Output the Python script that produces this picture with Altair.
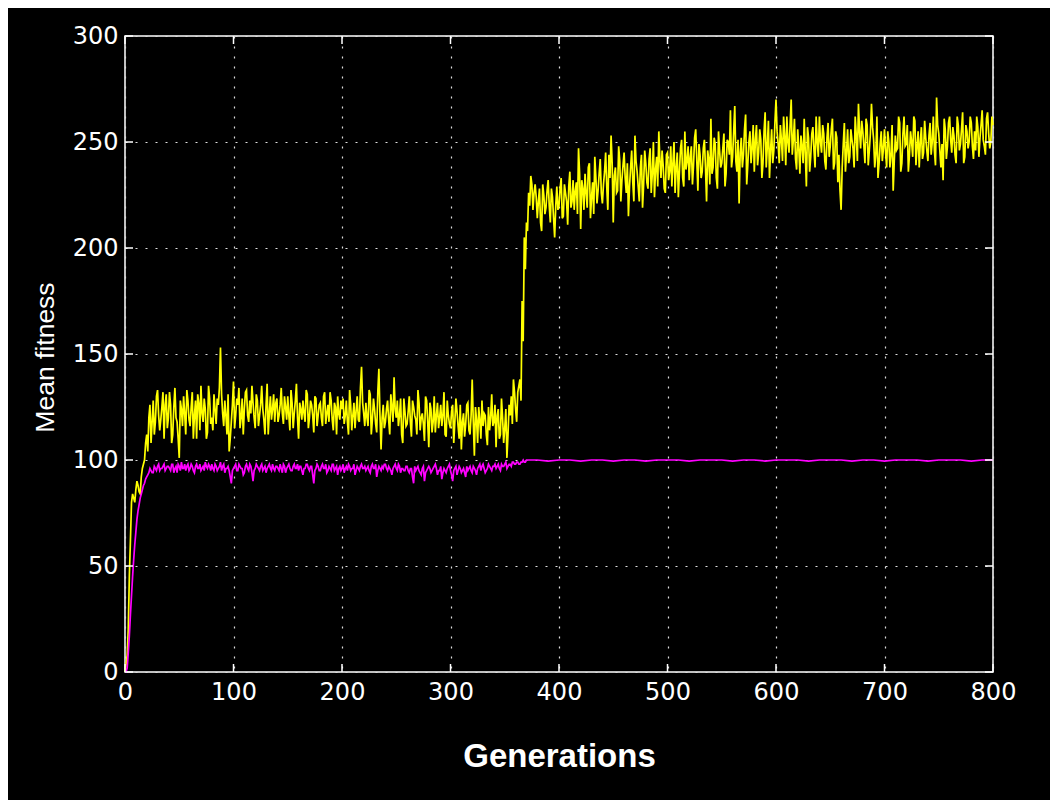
import altair as alt
import pandas as pd

# ---- data ----
x_ticks = [0, 100, 200, 300, 400, 500, 600, 700, 800]
y_ticks = [0, 50, 100, 150, 200, 250, 300]

# yellow series, even generations 0..800
yellow_even = [
    0, 8, 45, 80, 82, 86, 88, 84, 96, 100,
    112, 120, 108, 128, 118, 133, 114, 125, 110, 131,
    120, 126, 112, 134, 118, 101, 124, 130, 112, 128,
    116, 132, 121, 110, 127, 135, 118, 124, 113, 129,
    120, 131, 117, 126, 153, 122, 128, 112, 104, 118,
    137, 121, 126, 115, 129, 124, 133, 118, 122, 127,
    115, 128, 121, 135, 119, 126, 112, 130, 124, 118,
    129, 121, 134, 117, 125, 130, 114, 127, 122, 136,
    110, 124, 128, 118, 131, 120, 126, 113, 129, 121,
    127, 116, 132, 122, 118, 128, 114, 125, 130, 119,
    124, 117, 128, 112, 126, 121, 115, 130, 118, 144,
    122, 127, 116, 131, 119, 124, 113, 143, 105, 126,
    118, 128, 112, 125, 139, 120, 116, 129, 108, 123,
    117, 130, 111, 125, 119, 133, 114, 122, 109, 128,
    106, 124, 118, 113, 127, 120, 116, 132, 111, 121,
    115, 126, 118, 123, 110, 105, 122, 117, 127, 112,
    138, 102, 119, 125, 110, 116, 121, 107, 114, 131,
    118, 106, 124, 112, 120, 115, 101, 126, 130, 138,
    124, 132, 138, 175, 205, 212, 226, 234, 218, 230,
    214, 228, 208, 225, 219, 232, 212, 224, 205, 229,
    220, 233, 215, 226, 211, 236, 222, 218, 231, 247,
    209, 228, 235, 219, 240, 224, 216, 233, 227, 242,
    221, 236, 229, 244, 253, 212, 238, 227, 241, 232,
    245, 226, 215, 238, 231, 253, 236, 222, 244, 230,
    240, 228, 247, 235, 224, 243, 255, 233, 239, 226,
    245, 236, 229, 250, 238, 224, 247, 233, 255, 241,
    232, 248, 239, 256, 227, 244, 236, 251, 222, 242,
    261, 238, 249, 228, 246, 240, 254, 235, 250, 265,
    243, 267, 236, 221, 252, 244, 263, 239, 255, 247,
    236, 258, 245, 251, 240, 264, 248, 233, 256, 246,
    270, 249, 258, 241, 253, 262, 245, 270, 251, 242,
    256, 235, 248, 261, 229, 252, 243, 257, 238, 250,
    262, 245, 254, 237, 259, 248, 261, 240, 252, 244,
    218, 249, 236, 256, 243, 251, 238, 253, 268, 247,
    255, 240, 258, 246, 268, 251, 244, 233, 249, 241,
    256, 238, 250, 244, 227, 253, 247, 259, 240, 262,
    249, 236, 255, 243, 260, 248, 238, 257, 245, 252,
    241, 259, 250, 246, 271, 254, 238, 232, 256, 248,
    262, 245, 253, 240, 258, 249, 264, 243, 255, 250,
    259, 242, 246, 257, 252, 265, 248, 261, 254, 250,
    258,
]
# yellow series, odd generations 1..799
yellow_odd = [
    4, 20, 62, 84, 80, 90, 85, 92, 98, 108,
    104, 126, 118, 112, 130, 121, 119, 132, 126, 115,
    132, 108, 125, 120, 110, 128, 116, 122, 133, 119,
    125, 110, 128, 131, 114, 122, 129, 110, 135, 117,
    114, 124, 129, 134, 131, 116, 121, 131, 110, 126,
    115, 129, 134, 120, 112, 132, 121, 128, 135, 120,
    131, 116, 126, 124, 112, 136, 122, 119, 131, 127,
    118, 126, 122, 130, 119, 121, 133, 115, 128, 120,
    127, 119, 122, 133, 115, 128, 121, 130, 116, 126,
    120, 130, 117, 126, 132, 119, 127, 112, 122, 128,
    129, 121, 118, 133, 114, 127, 123, 119, 134, 127,
    116, 120, 133, 112, 129, 117, 132, 121, 120, 115,
    124, 119, 131, 118, 124, 128, 121, 112, 129, 116,
    123, 118, 128, 121, 112, 127, 120, 117, 130, 118,
    127, 113, 130, 121, 115, 126, 121, 112, 128, 117,
    123, 108, 129, 116, 126, 118, 111, 126, 114, 121,
    118, 125, 108, 119, 128, 122, 112, 125, 120, 116,
    126, 121, 110, 129, 108, 124, 112, 121, 117, 132,
    118, 135, 128, 156, 190, 208, 220, 230, 226, 224,
    222, 212, 230, 216, 227, 220, 228, 214, 220, 218,
    228, 214, 230, 222, 229, 219, 232, 227, 216, 235,
    232, 218, 226, 238, 214, 231, 243, 221, 235, 226,
    230, 245, 218, 233, 240, 234, 226, 248, 222, 239,
    233, 240, 229, 246, 222, 241, 229, 238, 219, 246,
    231, 242, 226, 250, 237, 229, 241, 246, 228, 244,
    232, 248, 240, 226, 245, 236, 251, 229, 237, 248,
    243, 230, 252, 241, 249, 233, 247, 238, 246, 230,
    235, 252, 233, 255, 238, 247, 229, 251, 244, 238,
    255, 241, 251, 245, 238, 256, 230, 250, 240, 258,
    251, 239, 256, 233, 255, 238, 260, 246, 240, 259,
    255, 240, 251, 262, 239, 250, 258, 244, 261, 237,
    247, 253, 240, 245, 257, 236, 254, 246, 262, 243,
    250, 258, 241, 252, 243, 256, 237, 255, 231, 227,
    238, 259, 245, 240, 256, 247, 262, 241, 255, 260,
    248, 261, 239, 254, 257, 238, 262, 240, 255, 247,
    245, 255, 238, 258, 241, 246, 262, 236, 254, 248,
    258, 244, 250, 262, 239, 255, 250, 242, 260, 246,
    253, 244, 262, 239, 258, 246, 249, 261, 242, 259,
    251, 257, 244, 262, 246, 256, 240, 258, 247, 262,
    248, 255, 262, 243, 258, 251, 244, 264, 247, 262,
]

# magenta series: even generations 0..370
magenta_even = [
    0, 2, 17, 36, 53, 66, 76, 82, 86, 89,
    92, 94, 95, 94, 96, 97, 95, 96, 98, 96,
    97, 95, 98, 96, 94, 97, 99, 96, 95, 98,
    96, 97, 94, 98, 96, 95, 97, 99, 96, 97,
    98, 95, 97, 96, 99, 97, 94, 96, 95, 89,
    96, 98, 95, 97, 96, 94, 98, 95, 97, 90,
    96, 97, 95, 98, 96, 94, 97, 96, 98, 95,
    97, 95, 96, 98, 94, 97, 96, 95, 98, 96,
    95, 97, 93, 96, 98, 95, 97, 89, 96, 97,
    95, 98, 96, 94, 97, 95, 98, 96, 93, 97,
    96, 94, 97, 98, 95, 96, 93, 97, 95, 98,
    96, 95, 97, 94, 98, 96, 92, 97, 95, 96,
    98, 95, 96, 93, 97, 96, 98, 94, 96, 95,
    97, 94, 96, 89, 95, 97, 94, 96, 90, 95,
    97, 94, 96, 98, 93, 95, 91, 96, 94, 97,
    95, 90, 96, 93, 97, 94, 96, 92, 95, 97,
    94, 96, 93, 97, 95, 98, 94, 96, 97, 95,
    97, 96, 98, 95, 97, 98, 96, 98, 97, 99,
    98, 99, 98, 99, 99, 100,
]
# magenta series: odd generations 1..369
magenta_odd = [
    0, 9, 27, 45, 60, 72, 79, 84, 88, 91,
    93, 96, 94, 97, 95, 98, 96, 97, 95, 97,
    96, 98, 94, 97, 98, 95, 96, 98, 97, 95,
    98, 95, 97, 96, 98, 96, 95, 97, 98, 95,
    96, 98, 95, 97, 95, 98, 96, 97, 92, 95,
    97, 95, 98, 96, 93, 97, 96, 98, 94, 95,
    98, 96, 97, 95, 97, 96, 98, 95, 96, 97,
    96, 98, 94, 97, 96, 98, 95, 97, 96, 98,
    97, 95, 96, 98, 96, 97, 93, 95, 98, 95,
    97, 96, 98, 95, 96, 98, 95, 97, 96, 95,
    98, 96, 95, 97, 96, 98, 95, 96, 97, 96,
    97, 96, 95, 97, 96, 98, 95, 96, 97, 98,
    96, 97, 95, 96, 98, 95, 97, 96, 95, 97,
    95, 96, 92, 97, 96, 95, 93, 97, 94, 96,
    96, 95, 97, 96, 95, 97, 94, 95, 96, 98,
    93, 95, 97, 95, 96, 95, 94, 97, 96, 95,
    97, 95, 96, 98, 97, 96, 95, 98, 96, 97,
    98, 97, 96, 98, 97, 99, 97, 98, 99, 98,
    99, 98, 99, 100, 99,
]
# magenta series: every 10 generations 380..800
magenta_late = [
    100, 99.5, 100, 100, 99.5, 100, 100, 99.5, 100, 100,
    99.5, 100, 100, 100, 99.5, 100, 100, 100, 99.5, 100,
    100, 99.5, 100, 100, 100, 99.5, 100, 100, 100, 99.5,
    100, 100, 99.5, 100, 100, 100, 99.5, 100, 100, 100,
    99.5, 100, 100,
]

df = pd.concat([
    pd.DataFrame({"gen": list(range(0, 801, 2)), "fit": yellow_even, "series": "a"}),
    pd.DataFrame({"gen": list(range(1, 800, 2)), "fit": yellow_odd, "series": "a"}),
    pd.DataFrame({"gen": list(range(0, 371, 2)), "fit": magenta_even, "series": "b"}),
    pd.DataFrame({"gen": list(range(1, 370, 2)), "fit": magenta_odd, "series": "b"}),
    pd.DataFrame({"gen": list(range(380, 801, 10)), "fit": magenta_late, "series": "b"}),
]).sort_values(["series", "gen"])

W, H = 868, 636
xs = alt.Scale(domain=[0, 800], nice=False, zero=False)
ys = alt.Scale(domain=[0, 300], nice=False, zero=False)

lines = alt.Chart(df).mark_line(strokeWidth=1.7, interpolate="linear").encode(
    x=alt.X("gen:Q", scale=xs, axis=alt.Axis(
        values=x_ticks, title="Generations", titleFont="Liberation Sans",
        titleFontSize=33, titleFontWeight="bold", titleColor="white",
        titleX=W / 2, titleY=84, titleBaseline="middle", titleAlign="center",
        labelPadding=8, labelFlush=False, labelOverlap=False)),
    y=alt.Y("fit:Q", scale=ys, axis=alt.Axis(
        values=y_ticks, title="Mean fitness", titleFont="Liberation Sans",
        titleFontSize=26.5, titleFontWeight="normal", titleColor="white",
        titleX=-80, titleY=321, titleAngle=270, titleBaseline="middle",
        titleAlign="center", labelPadding=7, labelFlush=False, labelOverlap=False)),
    color=alt.Color("series:N", scale=alt.Scale(domain=["a", "b"], range=["#ffff00", "#ff00ff"]), legend=None),
    order=alt.Order("gen:Q"),
)

xt = pd.DataFrame({"gen": x_ticks})
yt = pd.DataFrame({"fit": y_ticks})
rule_style = dict(color="white", strokeWidth=1.5)
bt = alt.Chart(xt).mark_rule(**rule_style).encode(
    x=alt.X("gen:Q", scale=xs), y=alt.value(H - 8), y2=alt.value(H))
tt = alt.Chart(xt).mark_rule(**rule_style).encode(
    x=alt.X("gen:Q", scale=xs), y=alt.value(0), y2=alt.value(8))
lt = alt.Chart(yt).mark_rule(**rule_style).encode(
    y=alt.Y("fit:Q", scale=ys), x=alt.value(0), x2=alt.value(8))
rt = alt.Chart(yt).mark_rule(**rule_style).encode(
    y=alt.Y("fit:Q", scale=ys), x=alt.value(W - 8), x2=alt.value(W))

chart = alt.layer(lines, bt, tt, lt, rt).properties(
    width=W, height=H,
    padding={"left": 117, "top": 28, "right": 57, "bottom": 128},
    autosize=alt.AutoSizeParams(type="none"),
    background="black",
).configure_view(
    stroke="white", strokeWidth=1.5, fill="black",
).configure_axis(
    domain=False, ticks=False, grid=True,
    gridColor="#dddddd", gridDash=[2, 8], gridWidth=1.2, gridOpacity=1,
    labelColor="white", labelFont="DejaVu Sans", labelFontSize=24,
)

chart.save("out.html", embed_options={"renderer": "svg", "actions": False})
